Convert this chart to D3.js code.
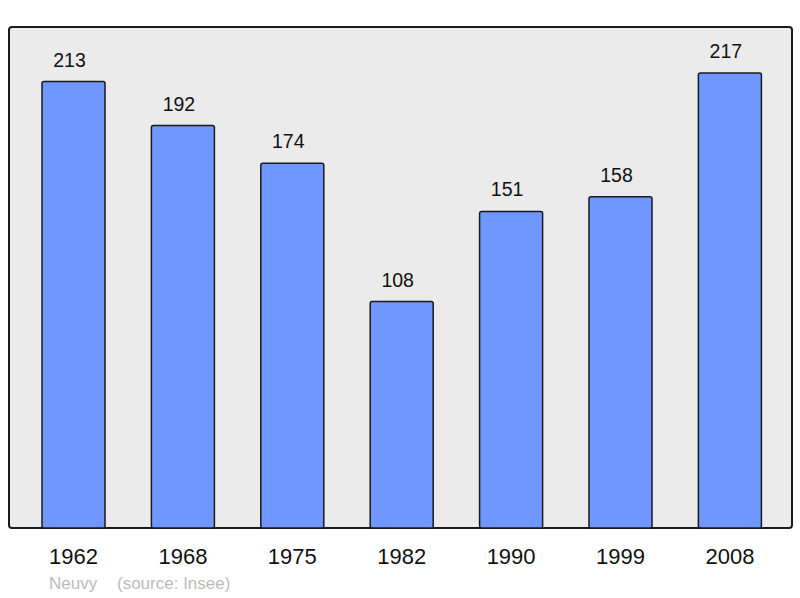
<!DOCTYPE html>
<html>
<head>
<meta charset="utf-8">
<script src="https://cdn.jsdelivr.net/npm/d3@7"></script>
<style>
  body { margin: 0; background: #fff; }
  text { font-family: "Liberation Sans", Arial, sans-serif; }
</style>
</head>
<body>
<div id="chart"></div>
<script>
// population data
let years = ["1962", "1968", "1975", "1982", "1990", "1999", "2008"];
let population = [213, 192, 174, 108, 151, 158, 217];
let place = "Neuvy";
let source = "(source: Insee)";

let width = 800, height = 598;
let panel = {"left": 9, "top": 27, "right": 792, "bottom": 528};

let svg = d3.select("#chart").append("svg")
    .attr("width", width)
    .attr("height", height);

// grey panel behind bars
svg.append("rect")
    .attr("x", panel.left)
    .attr("y", panel.top)
    .attr("width", panel.right - panel.left)
    .attr("height", panel.bottom - panel.top)
    .attr("rx", 3)
    .attr("fill", "#ebebeb")
    .attr("stroke", "#1a1a1a")
    .attr("stroke-width", 2);

let x = d3.scaleBand()
    .domain(years)
    .range([42, 761.4])
    .paddingInner(0.424)
    .paddingOuter(0);

let y = d3.scaleLinear()
    .domain([0, 239])
    .range([panel.bottom, panel.top]);

let data = years.map((yr, i) => ({"year": yr, "value": population[i]}));

svg.selectAll(".bar")
    .data(data)
    .join("rect")
    .attr("class", "bar")
    .attr("x", d => x(d.year))
    .attr("y", d => y(d.value))
    .attr("width", x.bandwidth())
    .attr("height", d => panel.bottom - y(d.value))
    .attr("rx", 2)
    .attr("fill", "#7097ff")
    .attr("stroke", "#1a1a1a")
    .attr("stroke-width", 1.5);

// value labels on top of bars (sit a little left of centre in the original)
svg.selectAll(".val")
    .data(data)
    .join("text")
    .attr("class", "val")
    .attr("x", d => x(d.year) + x.bandwidth() / 2 - 4)
    .attr("y", d => y(d.value) - 15)
    .attr("text-anchor", "middle")
    .style("font-size", "19.5px")
    .attr("fill", "#111")
    .text(d => d.value);

// year labels under the panel
let xAxis = svg.append("g")
    .attr("transform", "translate(0," + panel.bottom + ")")
    .call(d3.axisBottom(x).tickSize(0).tickPadding(0));
xAxis.select(".domain").remove();
xAxis.selectAll("text")
    .attr("dy", null)
    .attr("y", 36)
    .style("font-size", "22px")
    .style("font-family", "'Liberation Sans', Arial, sans-serif")
    .attr("fill", "#111");

// footer
svg.append("text")
    .attr("x", 49)
    .attr("y", 589)
    .style("font-size", "17px")
    .attr("fill", "#bbbbbb")
    .text(place);
svg.append("text")
    .attr("x", 117)
    .attr("y", 589)
    .style("font-size", "17px")
    .attr("fill", "#bbbbbb")
    .text(source);
</script>
</body>
</html>
